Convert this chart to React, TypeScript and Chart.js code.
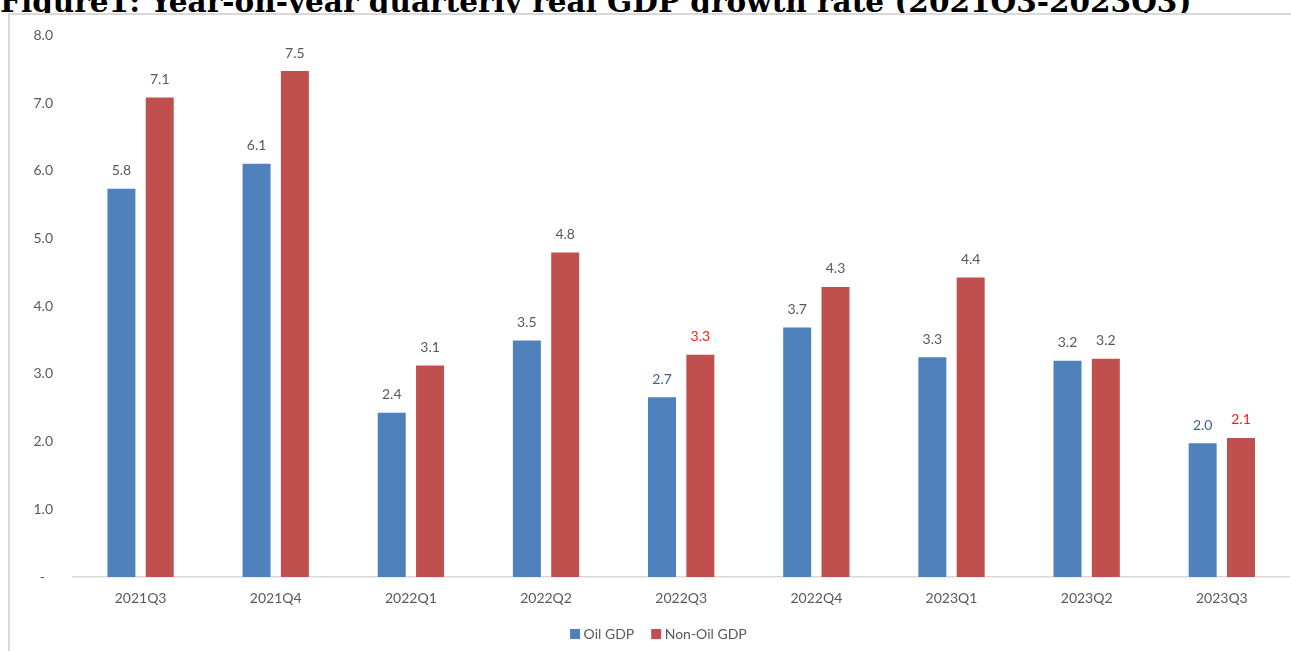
import React, { useEffect, useRef, useState } from "react";
import { Chart, registerables } from "chart.js";

Chart.register(...registerables);

// ---- data ----
const titleText = "Figure1: Year-on-year quarterly real GDP growth rate (2021Q3-2023Q3)";
const categories = ["2021Q3", "2021Q4", "2022Q1", "2022Q2", "2022Q3", "2022Q4", "2023Q1", "2023Q2", "2023Q3"];
const seriesNames = ["Oil GDP", "Non-Oil GDP"];
const oilGdp = [5.75, 6.12, 2.44, 3.51, 2.67, 3.7, 3.26, 3.21, 1.99];
const nonOilGdp = [7.1, 7.49, 3.14, 4.81, 3.3, 4.3, 4.44, 3.24, 2.07];
const yTickValues = [0, 1, 2, 3, 4, 5, 6, 7, 8];

// ---- styles ----
const seriesColors = ["#4F81BD", "#C0504D"];
const GRAY = "#595959";
const BLUE_LABEL = "#3D5F93";
const RED_LABEL = "#FF1A1A";
const oilLabelColors = [GRAY, GRAY, GRAY, GRAY, BLUE_LABEL, GRAY, GRAY, GRAY, BLUE_LABEL];
const nonOilLabelColors = [GRAY, GRAY, GRAY, GRAY, RED_LABEL, GRAY, GRAY, GRAY, RED_LABEL];
const labelColors = [oilLabelColors, nonOilLabelColors];
const FONT = "Lato";
const CANVAS_W = 1302;
const CANVAS_H = 636;

const dataLabelPlugin = {
  id: "dataLabels",
  afterDatasetsDraw(chart: any) {
    const ctx = chart.ctx;
    ctx.save();
    ctx.font = `14px ${FONT}`;
    ctx.textAlign = "center";
    ctx.textBaseline = "alphabetic";
    chart.data.datasets.forEach((ds: any, i: number) => {
      const meta = chart.getDatasetMeta(i);
      meta.data.forEach((bar: any, j: number) => {
        const v = ds.data[j] as number;
        ctx.fillStyle = labelColors[i][j];
        ctx.fillText(v.toFixed(1), bar.x, bar.y - 12.5);
      });
    });
    ctx.restore();
  },
};

const legendPlugin = {
  id: "customLegend",
  afterDraw(chart: any) {
    const ctx = chart.ctx;
    ctx.save();
    ctx.font = `14px ${FONT}`;
    const box = 10;
    const boxGap = 3.5;
    const itemGap = 17;
    const items = chart.data.datasets.map((ds: any) => ({
      label: ds.label as string,
      color: ds.backgroundColor as string,
      w: ctx.measureText(ds.label).width,
    }));
    const total =
      items.reduce((s: number, it: any) => s + box + boxGap + it.w, 0) + itemGap * (items.length - 1);
    let x = chart.width / 2 - 2.6 - total / 2;
    const cy = 619;
    items.forEach((it: any) => {
      ctx.fillStyle = it.color;
      ctx.fillRect(x, cy - box / 2, box, box);
      x += box + boxGap;
      ctx.fillStyle = GRAY;
      ctx.textAlign = "left";
      ctx.textBaseline = "middle";
      ctx.fillText(it.label, x, cy);
      x += it.w + itemGap;
    });
    ctx.restore();
  },
};

export default function App() {
  const canvasRef = useRef<HTMLCanvasElement | null>(null);
  const [titleSize, setTitleSize] = useState(27);

  useEffect(() => {
    const c = document.createElement("canvas").getContext("2d");
    if (c) {
      c.font = `bold 100px "DejaVu Serif"`;
      const w = c.measureText(titleText).width;
      if (w > 0) setTitleSize((100 * 1192) / w);
    }
  }, []);

  useEffect(() => {
    if (!canvasRef.current) return;
    const chart = new Chart(canvasRef.current, {
      type: "bar",
      data: {
        labels: categories,
        datasets: [
          {
            label: seriesNames[0],
            data: oilGdp,
            backgroundColor: seriesColors[0],
            borderColor: "rgba(255,255,255,0.35)",
            borderWidth: 1,
            categoryPercentage: 0.567,
            barPercentage: 0.783,
          },
          {
            label: seriesNames[1],
            data: nonOilGdp,
            backgroundColor: seriesColors[1],
            borderColor: "rgba(255,255,255,0.35)",
            borderWidth: 1,
            categoryPercentage: 0.567,
            barPercentage: 0.783,
          },
        ],
      },
      options: {
        responsive: false,
        animation: false,
        devicePixelRatio: 1,
        layout: { padding: { top: 20.5, right: 22.6, bottom: 34, left: 0 } },
        plugins: {
          legend: { display: false },
          tooltip: { enabled: false },
          title: { display: false },
        },
        scales: {
          x: {
            grid: { display: false, drawTicks: false },
            border: { display: true, color: "#D9D9D9", width: 1.5 },
            ticks: { color: GRAY, font: { family: FONT, size: 14 }, padding: 13, maxRotation: 0 },
            afterFit(scale: any) {
              scale.height = 40;
            },
          },
          y: {
            min: yTickValues[0],
            max: yTickValues[yTickValues.length - 1],
            grid: { display: false, drawTicks: false },
            border: { display: false },
            afterBuildTicks(scale: any) {
              scale.ticks = yTickValues.map((v) => ({ value: v }));
            },
            ticks: {
              color: GRAY,
              font: { family: FONT, size: 14 },
              padding: 20,
              callback: (v: any) => (Number(v) === 0 ? "-\u2007" : Number(v).toFixed(1)),
            },
            afterFit(scale: any) {
              scale.width = 63;
              scale.paddingTop = 8;
              scale.paddingBottom = 8;
            },
          },
        },
      },
      plugins: [dataLabelPlugin, legendPlugin],
    });
    return () => chart.destroy();
  }, []);

  const titleTop = 11.5 - 0.846 * titleSize;

  return (
    <div
      style={{
        position: "fixed",
        left: 0,
        top: 0,
        width: 1291,
        height: 651,
        overflow: "hidden",
        background: "#fff",
      }}
    >
      <div
        style={{
          position: "absolute",
          left: 0,
          top: titleTop,
          whiteSpace: "nowrap",
          fontFamily: '"DejaVu Serif", serif',
          fontWeight: "bold",
          fontSize: titleSize,
          lineHeight: `${titleSize}px`,
          color: "#000",
          zIndex: 0,
        }}
      >
        {titleText}
      </div>
      <div
        style={{
          position: "absolute",
          left: 8,
          top: 13,
          width: CANVAS_W,
          height: 700,
          border: "2px solid #D9D9D9",
          background: "#fff",
          zIndex: 1,
        }}
      >
        <canvas
          ref={canvasRef}
          width={CANVAS_W}
          height={CANVAS_H}
          style={{ position: "absolute", left: 0, top: 0, width: CANVAS_W, height: CANVAS_H }}
        />
      </div>
    </div>
  );
}
